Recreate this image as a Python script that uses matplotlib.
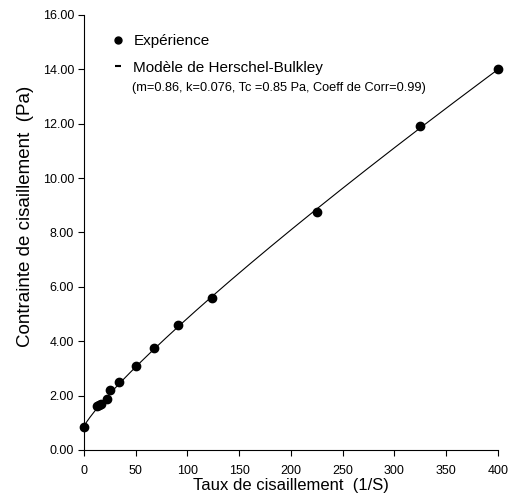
import numpy as np
import matplotlib.pyplot as plt
from matplotlib.lines import Line2D

plt.rcParams['font.family'] = ['Liberation Sans', 'DejaVu Sans']

# measured points: shear rate (1/s) vs shear stress (Pa)
taux = [0, 13, 15, 17, 22, 25, 34, 50, 68, 91, 124, 225, 325, 400]
contrainte = [0.85, 1.62, 1.65, 1.68, 1.87, 2.20, 2.50, 3.10, 3.75, 4.60,
              5.60, 8.75, 11.90, 14.00]

# Herschel-Bulkley fit parameters
m = 0.86
k = 0.076
tc = 0.85

x_ticks = [0, 50, 100, 150, 200, 250, 300, 350, 400]
y_ticks = [0, 2, 4, 6, 8, 10, 12, 14, 16]

gamma = np.linspace(0, 400, 400)
tau = tc + k * gamma ** m

fig = plt.figure(figsize=(5.08, 4.95), dpi=100)
ax = fig.add_axes([0.165, 0.091, 0.815, 0.879])

ax.plot(gamma, tau, color='black', lw=0.8)
ax.plot(taux, contrainte, 'o', color='black', markersize=6, clip_on=False, zorder=3)

ax.set_xlim(0, 400)
ax.set_ylim(0, 16)
ax.set_xticks(x_ticks)
ax.set_yticks(y_ticks)
ax.set_yticklabels(['%.2f' % v for v in y_ticks])
ax.tick_params(direction='out', length=4, width=0.8, labelsize=9, pad=3)
ax.tick_params(axis='x', pad=7)
for s in ['top', 'right']:
    ax.spines[s].set_visible(False)
for s in ['left', 'bottom']:
    ax.spines[s].set_linewidth(0.8)

ax.set_xlabel('Taux de cisaillement  (1/S)', fontsize=12, labelpad=0.5)
ax.set_ylabel('Contrainte de cisaillement  (Pa)', fontsize=13.5, labelpad=6)
ax.yaxis.label.set_y(0.536)

handles = [
    Line2D([], [], marker='o', ls='none', color='black', markersize=5),
    Line2D([], [], marker='_', ls='none', color='black', markersize=5, markeredgewidth=1.5),
]
ax.legend(handles, ['Expérience', 'Modèle de Herschel-Bulkley'],
          loc='upper left', bbox_to_anchor=(0.068, 0.956), frameon=False,
          borderpad=0, borderaxespad=0,
          fontsize=11, handlelength=0.8, handletextpad=0.6, labelspacing=0.82)
ax.text(0.116, 0.832, '(m=0.86, k=0.076, Tc =0.85 Pa, Coeff de Corr=0.99)',
        transform=ax.transAxes, fontsize=9.2, va='center')

fig.savefig('out.png', dpi=100)
